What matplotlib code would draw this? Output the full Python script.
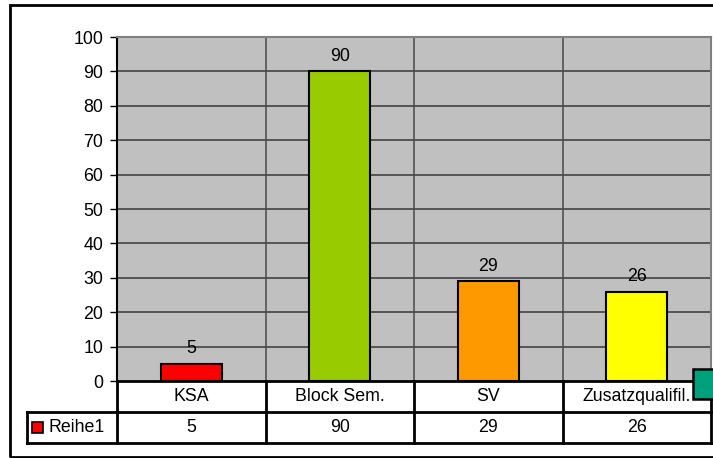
import matplotlib
matplotlib.use("Agg")
import matplotlib.pyplot as plt
from matplotlib.patches import Rectangle
from matplotlib.lines import Line2D

# ── data ───────────────────────────────────────────
categories = ["KSA", "Block Sem.", "SV", "Zusatzqualifil."]
values     = [5, 90, 29, 26]
colors     = ["#FF0000", "#99CC00", "#FF9900", "#FFFF00"]
series     = "Reihe1"
yticks     = list(range(0, 101, 10))
# ───────────────────────────────────────────────────

plt.rcParams["font.family"] = ["Liberation Sans", "DejaVu Sans"]
FS = 12.8

W, H = 713, 458
fig = plt.figure(figsize=(W / 100, H / 100), dpi=100)

# plot area in pixels: x 117..711, y 37..381
L, R, T, B = 117, 711, 37, 381
ax = fig.add_axes([L / W, 1 - B / H, (R - L) / W, (B - T) / H])
ax.set_facecolor("#C0C0C0")

x = list(range(len(categories)))
ax.bar(x, values, width=0.41, color=colors, edgecolor="black", linewidth=1.5, zorder=3)
for xi, v in zip(x, values):
    ax.text(xi, v + 1.9, str(v), ha="center", va="bottom", fontsize=FS, zorder=4)

ax.set_xlim(-0.5, len(categories) - 0.5)
ax.set_ylim(0, 100)
ax.set_yticks(yticks)
ax.set_yticklabels([str(t) for t in yticks], fontsize=FS)
ax.tick_params(axis="y", length=5, width=1, pad=5, color="black")
ax.set_xticks([])
for t in yticks[1:]:
    ax.axhline(t, color="#383838", lw=1.1, zorder=1)
for xi in x[1:]:
    ax.axvline(xi - 0.5, color="#484848", lw=1.1, zorder=1)

for s in ["top", "right"]:
    ax.spines[s].set_color("#808080")
    ax.spines[s].set_linewidth(1.5)
ax.spines["left"].set_linewidth(1.5)
ax.spines["bottom"].set_linewidth(2)

# ── data table below the plot ──────────────────────
row_h = 31 / (B - T)
tr = ax.get_xaxis_transform()
lx = -0.5 - (L - 27) / ((R - L) / len(categories))   # left edge of row label column
edges = [xi - 0.5 for xi in x] + [x[-1] + 0.5]
kw = dict(transform=tr, color="black", lw=2, clip_on=False)
ax.add_line(Line2D([edges[0], edges[-1]], [-row_h, -row_h], **kw))
ax.add_line(Line2D([lx, edges[0]], [-row_h, -row_h], **kw))
ax.add_line(Line2D([lx, edges[-1]], [-2 * row_h, -2 * row_h], **kw))
ax.add_line(Line2D([lx, lx], [-row_h, -2 * row_h], **kw))
for e in edges:
    ax.add_line(Line2D([e, e], [0, -2 * row_h], **kw))

for xi, c, v in zip(x, categories, values):
    ax.text(xi, -0.5 * row_h, c, transform=tr, ha="center", va="center", fontsize=FS)
    ax.text(xi, -1.5 * row_h, str(v), transform=tr, ha="center", va="center", fontsize=FS)

# row label with legend key
fig.add_artist(Rectangle((32 / W, 1 - 433 / H), 11 / W, 11 / H, transform=fig.transFigure,
                         facecolor=colors[0], edgecolor="black", lw=1.2))
fig.text(49 / W, 1 - 427 / H, series, ha="left", va="center", fontsize=FS)

# outer chart border (clipped at right)
fig.add_artist(Rectangle((10 / W, 1 - 457 / H), 720 / W, 452 / H, transform=fig.transFigure,
                         facecolor="none", edgecolor="black", lw=2))

# stray teal shape overlapping the right edge
fig.add_artist(Rectangle((693 / W, 1 - 399 / H), 30 / W, 30 / H, transform=fig.transFigure,
                         facecolor="#00A07C", edgecolor="black", lw=1.8, zorder=5))

fig.savefig("out.png", dpi=100)
